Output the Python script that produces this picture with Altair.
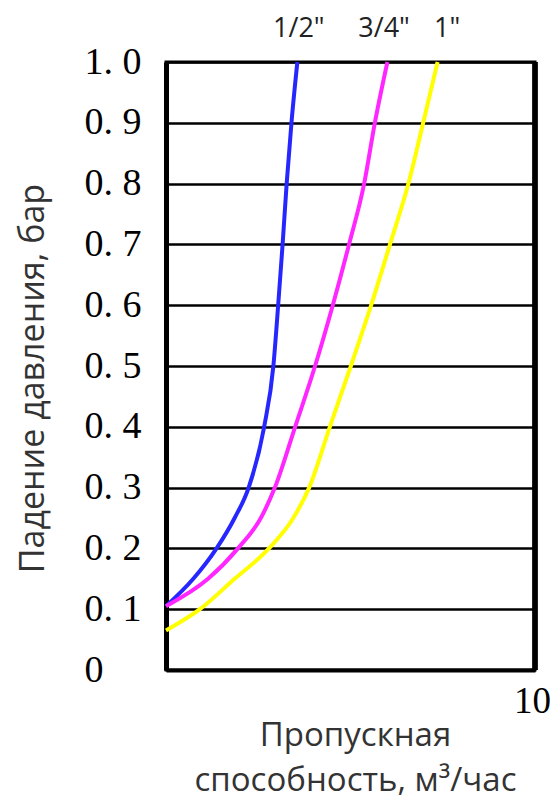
import altair as alt
import pandas as pd

# ---- data ----
SERIES = ['1/2"', '3/4"', '1"']
COLORS = ["#2626ff", "#ff26ff", "#ffff00"]

Y_HALF = [0.105, 0.15, 0.2, 0.25, 0.3, 0.4, 0.5, 0.6, 0.7, 0.8, 0.9, 1.0]
X_HALF = [0.0, 0.74, 1.37, 1.86, 2.24, 2.66, 2.91, 3.04, 3.16, 3.27, 3.40, 3.56]

Y_3Q = [0.105, 0.15, 0.2, 0.25, 0.3, 0.4, 0.5, 0.6, 0.7, 0.8, 0.9, 1.0]
X_3Q = [0.0, 1.14, 1.95, 2.57, 2.95, 3.50, 4.04, 4.52, 4.96, 5.37, 5.66, 6.00]

Y_ONE = [0.065, 0.1, 0.15, 0.2, 0.25, 0.3, 0.4, 0.5, 0.6, 0.7, 0.8, 0.9, 1.0]
X_ONE = [0.0, 0.92, 1.86, 2.79, 3.45, 3.88, 4.44, 5.01, 5.56, 6.07, 6.57, 6.97, 7.36]

LABEL_X = [3.6, 5.91, 7.62]
LABEL_Y = [1.0, 1.0, 1.0]

Y_TICKS = [0, 0.1, 0.2, 0.3, 0.4, 0.5, 0.6, 0.7, 0.8, 0.9, 1.0]
Y_TICK_LABELS = ["0", "0. 1", "0. 2", "0. 3", "0. 4", "0. 5",
                 "0. 6", "0. 7", "0. 8", "0. 9", "1. 0"]
X_TICKS = [10]

X_TITLE = ["Пропускная", "способность, м³/час"]
Y_TITLE = "Падение давления, бар"

# ---- tables ----
rows = []
for name, xs, ys in [(SERIES[0], X_HALF, Y_HALF),
                     (SERIES[1], X_3Q, Y_3Q),
                     (SERIES[2], X_ONE, Y_ONE)]:
    for xv, yv in zip(xs, ys):
        rows.append({"series": name, "x": xv, "y": yv})
curves = pd.DataFrame(rows)
labels = pd.DataFrame({"label": SERIES, "x": LABEL_X, "y": LABEL_Y})

label_expr = "[" + ",".join("'" + s + "'" for s in Y_TICK_LABELS) + "][round(datum.value*10)]"

xscale = alt.Scale(domain=[0, 10], nice=False, zero=False)
yscale = alt.Scale(domain=[0, 1], nice=False, zero=False)

x_axis = alt.Axis(
    values=X_TICKS, format="d", grid=False, ticks=False, tickSize=0,
    domainWidth=4, domainColor="black",
    labelFont="Liberation Serif", labelFontSize=37, labelColor="black",
    labelPadding=42, labelBaseline="alphabetic", labelFlush=False, labelOffset=-3,
    title=X_TITLE, titleFont="Open Sans", titleFontSize=33,
    titleFontWeight="normal", titleColor="#333333",
    titleX=189, titleY=75, titleBaseline="alphabetic", titleLineHeight=45,
)
y_axis = alt.Axis(
    values=Y_TICKS, labelExpr=label_expr, grid=True, gridColor="black",
    gridWidth=2.5, gridOpacity=1, ticks=False, tickSize=0,
    domainWidth=5, domainColor="black",
    labelFont="Liberation Serif", labelFontSize=38, labelColor="black",
    labelAlign="left", labelPadding=82, labelBaseline="middle",
    title=Y_TITLE, titleFont="Open Sans", titleFontSize=34,
    titleFontWeight="normal", titleColor="#333333",
    titleX=-123, titleY=316, titleBaseline="alphabetic", titleAngle=270,
)

lines = alt.Chart(curves).mark_line(strokeWidth=4, interpolate="monotone").encode(
    x=alt.X("x:Q", scale=xscale, axis=x_axis),
    y=alt.Y("y:Q", scale=yscale, axis=y_axis),
    color=alt.Color("series:N", scale=alt.Scale(domain=SERIES, range=COLORS), legend=None),
    detail="series:N",
)

right_border = alt.Chart(labels).mark_rule(color="black", strokeWidth=5).encode(
    x=alt.datum(10, scale=xscale),
)

text = alt.Chart(labels).mark_text(
    font="Open Sans", fontSize=27, color="#222222", baseline="middle", dy=-33
).encode(
    x=alt.X("x:Q", scale=xscale),
    y=alt.Y("y:Q", scale=yscale),
    text="label:N",
)

chart = alt.layer(lines, right_border, text).properties(
    width=369, height=608,
    autosize=alt.AutoSizeParams(type="none"),
    padding={"left": 158, "top": 54, "right": 16, "bottom": 130},
).configure_view(stroke="black", strokeWidth=3)

chart.save("out.html", embed_options={"renderer": "svg", "actions": False})
